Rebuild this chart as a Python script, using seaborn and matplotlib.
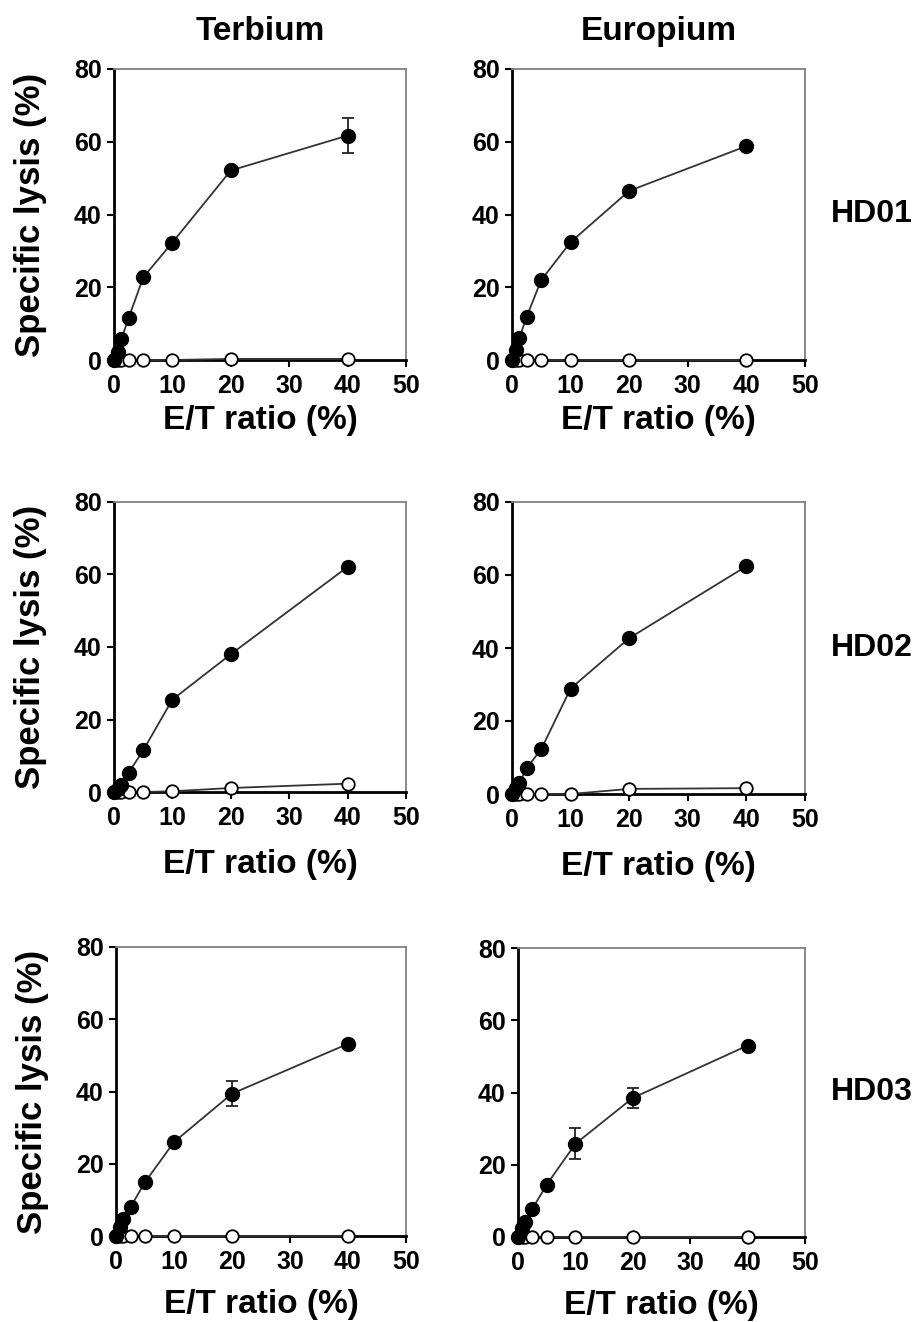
import numpy as np
import pandas as pd
import matplotlib
matplotlib.use("Agg")
import matplotlib.pyplot as plt
import seaborn as sns

sns.set_style("ticks")
plt.rcParams['font.family'] = ['Liberation Sans', 'DejaVu Sans']
plt.rcParams['font.weight'] = 'bold'
plt.rcParams['text.color'] = 'black'
plt.rcParams['axes.labelcolor'] = 'black'
plt.rcParams['xtick.color'] = 'black'
plt.rcParams['ytick.color'] = 'black'

# ---- data ----
et_ratio = [0, 0.625, 1.25, 2.5, 5, 10, 20, 40]
columns = ["Terbium", "Europium"]
donors = ["HD01", "HD02", "HD03"]

# filled circles (target cells), open circles (control)
hd01_tb_filled = [0, 2.3, 5.7, 11.5, 22.7, 32.3, 52.1, 61.7]
hd01_tb_open = [0, 0, 0, 0, 0, 0, 0.3, 0.3]
hd01_eu_filled = [0, 2.7, 6.0, 11.9, 22.0, 32.4, 46.5, 58.8]
hd01_eu_open = [0, 0, 0, 0, 0, 0, 0, 0]

hd02_tb_filled = [0, 0.9, 2.0, 5.3, 11.5, 25.5, 38.0, 62.1]
hd02_tb_open = [0, 0, 0, 0, 0, 0.2, 1.1, 2.3]
hd02_eu_filled = [0, 1.6, 3.0, 7.1, 12.3, 28.9, 42.7, 62.4]
hd02_eu_open = [0, 0, 0, 0, 0, 0, 1.4, 1.6]

hd03_tb_filled = [0, 2.5, 4.6, 8.0, 14.9, 26.0, 39.4, 53.2]
hd03_tb_open = [0, 0, 0, 0, 0, 0, 0, 0]
hd03_eu_filled = [0, 2.5, 4.1, 7.8, 14.5, 25.8, 38.5, 53.0]
hd03_eu_open = [0, 0, 0, 0, 0, 0, 0, 0]

# error bars (SD) on filled series, zero where none visible
hd01_tb_err = [0, 0, 0, 0, 0, 0, 0, 4.9]
hd01_eu_err = [0, 0, 0, 0, 0, 0, 0, 0]
hd02_tb_err = [0, 0, 0, 0, 0, 0, 0, 0]
hd02_eu_err = [0, 0, 0, 0, 0, 0, 0, 0]
hd03_tb_err = [0, 0, 0, 0, 0, 0, 3.4, 0]
hd03_eu_err = [0, 0, 0, 0, 0, 4.3, 2.8, 0]

x_ticks = [0, 10, 20, 30, 40, 50]
y_ticks = [0, 20, 40, 60, 80]

panels = {
    ("HD01", "Terbium"): (hd01_tb_filled, hd01_tb_open, hd01_tb_err),
    ("HD01", "Europium"): (hd01_eu_filled, hd01_eu_open, hd01_eu_err),
    ("HD02", "Terbium"): (hd02_tb_filled, hd02_tb_open, hd02_tb_err),
    ("HD02", "Europium"): (hd02_eu_filled, hd02_eu_open, hd02_eu_err),
    ("HD03", "Terbium"): (hd03_tb_filled, hd03_tb_open, hd03_tb_err),
    ("HD03", "Europium"): (hd03_eu_filled, hd03_eu_open, hd03_eu_err),
}

# ---- layout (pixel boxes: left, top, right, bottom) ----
W, H = 921, 1322
boxes = {
    ("HD01", "Terbium"): (114, 69, 406, 360),
    ("HD01", "Europium"): (512, 69, 805, 360),
    ("HD02", "Terbium"): (114, 502, 406, 792),
    ("HD02", "Europium"): (512, 502, 805, 794),
    ("HD03", "Terbium"): (116, 947, 406, 1236),
    ("HD03", "Europium"): (518, 948, 805, 1237),
}
xlabel_pad = {"HD01": 5, "HD02": 14, "HD03": 11}

fig = plt.figure(figsize=(W / 100, H / 100), dpi=100)

line_col = "#333333"
for (donor, col), (l, t, r, b) in boxes.items():
    ax = fig.add_axes([l / W, 1 - b / H, (r - l) / W, (b - t) / H])
    filled, opened, err = panels[(donor, col)]
    df = pd.DataFrame({"et": et_ratio, "filled": filled, "open": opened, "err": err})

    sns.lineplot(data=df, x="et", y="open", ax=ax, color=line_col, linewidth=1.3,
                 marker="o", markersize=9, markerfacecolor="white",
                 markeredgecolor="black", markeredgewidth=1.3, clip_on=False, zorder=3)
    e = df[df["err"] > 0]
    if len(e):
        ax.errorbar(e["et"], e["filled"], yerr=e["err"], fmt="none", ecolor="#222222",
                    elinewidth=1.3, capsize=4, capthick=1.3, zorder=3)
    sns.lineplot(data=df, x="et", y="filled", ax=ax, color=line_col, linewidth=1.3,
                 marker="o", markersize=10, markerfacecolor="black",
                 markeredgecolor="black", markeredgewidth=1, clip_on=False, zorder=4)

    ax.set_xlim(0, 50)
    ax.set_ylim(0, 80)
    ax.set_xticks(x_ticks)
    ax.set_yticks(y_ticks)
    ax.tick_params(axis="both", labelsize=18, length=5, width=1.5, direction="out")
    ax.tick_params(axis="x", pad=5)
    ax.tick_params(axis="y", pad=4)
    for lab in ax.get_xticklabels() + ax.get_yticklabels():
        lab.set_fontweight("bold")
    for s in ["left", "bottom"]:
        ax.spines[s].set_linewidth(2)
        ax.spines[s].set_color("black")
    for s in ["top", "right"]:
        ax.spines[s].set_visible(True)
        ax.spines[s].set_linewidth(1.3)
        ax.spines[s].set_color("#808080")

    ax.set_xlabel("E/T ratio (%)", fontsize=24, fontweight="bold",
                  labelpad=xlabel_pad[donor])
    if col == "Terbium":
        ax.set_ylabel("Specific lysis (%)", fontsize=25, fontweight="bold", labelpad=19)
    else:
        ax.set_ylabel("")
        ax.text(1.09, 0.5, donor, transform=ax.transAxes, fontsize=23,
                fontweight="bold", ha="left", va="center")
    if donor == "HD01":
        ax.set_title(col, fontsize=24, fontweight="bold", pad=21)

fig.savefig("out.png", dpi=100)
